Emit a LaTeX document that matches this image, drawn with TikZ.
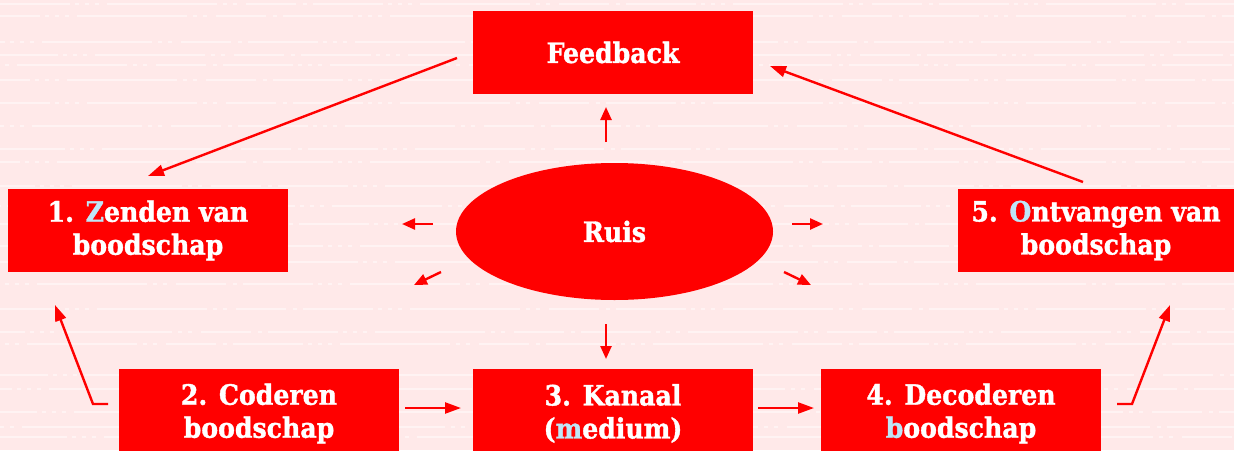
\documentclass[tikz,border=0pt]{standalone}
\usepackage{fontspec}
\newfontfamily\slab{DejaVu Serif Condensed}[BoldFeatures={FakeBold=1.3}]
\usetikzlibrary{arrows.meta,shapes.geometric}
\definecolor{bg}{HTML}{FFE9E9}
\definecolor{streak}{HTML}{FFF3F3}
\definecolor{boxred}{HTML}{FF0000}
\definecolor{hl}{HTML}{BFE6F7}
\newcommand{\hlt}[1]{\textcolor{hl}{#1}}
\begin{document}
\begin{tikzpicture}[x=1pt,y=-1pt,
  label font/.style={font=\slab\bfseries\fontsize{28}{33}\selectfont},
  stepbox/.style={fill=boxred, text=white, minimum width=280pt, minimum height=83pt,
    inner sep=0pt, align=center, label font},
  lowbox/.style={stepbox, minimum height=89pt},
  flow/.style={draw=boxred, line width=2.4pt, -{Triangle[length=16pt,width=11pt]}},
  small/.style={draw=boxred, line width=2.4pt, -{Triangle[length=13pt,width=11pt]}},
  streaks/.style={draw=streak, line width=2pt,
    dash pattern=on 70pt off 5pt on 4pt off 6pt on 4pt off 6pt on 4pt off 8pt on 110pt off 6pt on 4pt off 6pt on 4pt off 9pt on 50pt off 7pt on 4pt off 6pt}]
  \fill[bg] (0,0) rectangle (1234,450);
  \useasboundingbox (0,0) rectangle (1234,450);

  % faint streaks across the paper
  \foreach \y/\ph in {4/0,16/30,42/65,55/12,65/90,80/40,103/20,126/75,149/5,162/50,
                      186/35,206/88,224/14,246/60,262/25,284/70,309/10,332/45,344/80,
                      375/22,389/58,412/33,427/85,437/3}
    \draw[streaks, dash phase=\ph pt] (0,\y) -- (1234,\y);

  % boxes of the communication cycle
  \node[stepbox] (fb) at (613,52.5) {Feedback};
  \node[stepbox] (s1) at (148,230.5) {1. \hlt{Z}enden van\\boodschap};
  \node[stepbox, minimum width=276pt] (s5) at (1096,230.5) {5. \hlt{O}ntvangen van\\boodschap};
  \node[lowbox] (s2) at (259,413.5) {2. Coderen\\boodschap};
  \node[lowbox] (s3) at (613,413.5) {3. Kanaal\\(\hlt{m}edium)};
  \node[lowbox] (s4) at (961,413.5) {4. Decoderen\\\hlt{b}oodschap};

  % noise in the middle
  \node[ellipse, fill=boxred, text=white, minimum width=317pt, minimum height=137pt,
    inner sep=0pt, label font] (ruis) at (614.5,231.5) {Ruis};

  % end points of the connectors
  \coordinate (fbL) at (457,58);
  \coordinate (s1T) at (148,176);
  \coordinate (s5T) at (1083,182);
  \coordinate (fbR) at (770,66);
  \coordinate (s2L) at (108,404);
  \coordinate (s2C) at (93,404);
  \coordinate (s1B) at (55,305);
  \coordinate (s4R) at (1117,404);
  \coordinate (s4C) at (1132,404);
  \coordinate (s5B) at (1170,305);
  \coordinate (s2R) at (405,408);
  \coordinate (s3L) at (461,408);
  \coordinate (s3R) at (758,408);
  \coordinate (s4L) at (814,408);

  \draw[flow] (fbL) -- (s1T);
  \draw[flow] (s5T) -- (fbR);
  \draw[flow] (s2L) -- (s2C) -- (s1B);
  \draw[flow] (s4R) -- (s4C) -- (s5B);
  \draw[flow] (s2R) -- (s3L);
  \draw[flow] (s3R) -- (s4L);

  % short arrows radiating from the noise
  \draw[small] (606,142) -- (606,107);
  \draw[small] (606,324) -- (606,359);
  \draw[small] (433,224) -- (402,224);
  \draw[small] (441,272) -- (414,285);
  \draw[small] (792,224) -- (823,224);
  \draw[small] (784,272) -- (811,285);
\end{tikzpicture}
\end{document}
